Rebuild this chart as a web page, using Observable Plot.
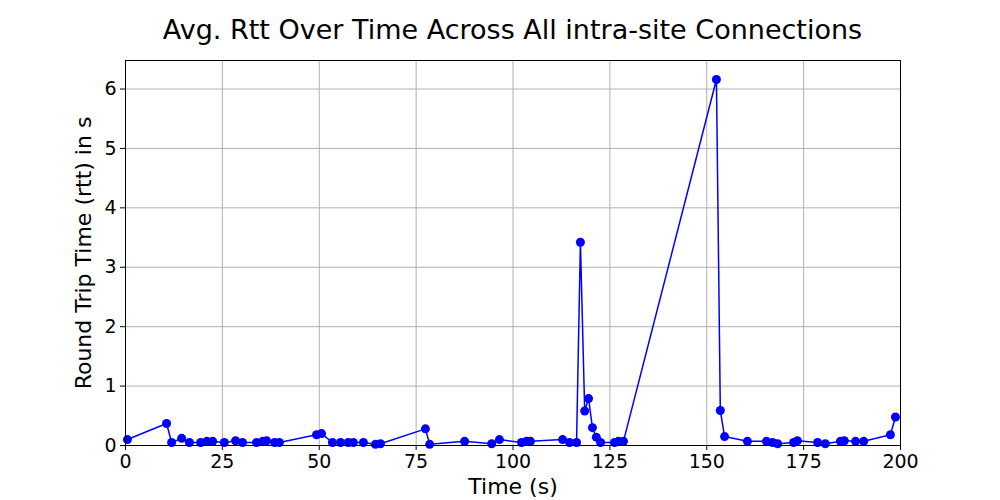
<!DOCTYPE html>
<html><head><meta charset="utf-8">
<script src="https://cdn.jsdelivr.net/npm/d3@7"></script>
<script src="https://cdn.jsdelivr.net/npm/@observablehq/plot@0.6"></script>
<style>
body{margin:0;background:#fff;font-family:"DejaVu Sans",sans-serif;}
#title{height:40px;width:1000px;text-align:center;font-size:27px;line-height:27px;padding-top:16px;box-sizing:border-box;padding-left:25px;}
</style></head><body>
<div id="title">Avg. Rtt Over Time Across All intra-site Connections</div>
<div id="chart"></div>
<script>
const times = [0.5,10.6,11.9,14.5,16.5,19.4,21,22.5,25.5,28.4,30.2,33.8,35.4,36.4,38.5,39.7,49.3,50.6,53.4,55.5,57.5,58.8,61.4,64.5,65.8,77.4,78.5,87.5,94.5,96.5,102.2,103.5,104.5,112.8,114.6,116.4,117.4,118.5,119.5,120.5,121.5,122.6,126.2,127.2,128.5,152.5,153.5,154.6,160.5,165.4,167,168.3,172.4,173.4,178.6,180.6,184.5,185.5,188.4,190.5,197.4,198.7];
const rtts = [0.10,0.37,0.05,0.12,0.05,0.05,0.07,0.07,0.05,0.08,0.05,0.05,0.07,0.08,0.05,0.05,0.18,0.20,0.05,0.05,0.05,0.05,0.05,0.02,0.03,0.28,0.02,0.07,0.03,0.10,0.05,0.07,0.07,0.10,0.05,0.05,3.42,0.58,0.79,0.30,0.14,0.05,0.05,0.07,0.07,6.16,0.59,0.15,0.07,0.07,0.05,0.03,0.05,0.08,0.05,0.03,0.07,0.08,0.07,0.07,0.18,0.48];
const xTicks = [0,25,50,75,100,125,150,175,200];
const yTicks = [0,1,2,3,4,5,6];
const data = times.map((t,i)=>({t, r: rtts[i]}));
const chart = Plot.plot({
  width:1000, height:460,
  marginLeft:125, marginRight:100, marginTop:20, marginBottom:55,
  style:{fontFamily:"DejaVu Sans", fontSize:"19px", color:"black", background:"white"},
  x:{domain:[0,200], label:null},
  y:{domain:[0,6.48], label:null},
  marks:[
    Plot.gridX(xTicks,{stroke:"#b0b0b0", strokeOpacity:1}),
    Plot.gridY(yTicks,{stroke:"#b0b0b0", strokeOpacity:1}),
    Plot.axisX(xTicks,{label:null, fontSize:19, tickSize:5, tickPadding:4, tickFormat:d3.format("d")}),
    Plot.axisY(yTicks,{label:null, fontSize:19, tickSize:5, tickPadding:4, tickFormat:d3.format("d")}),
    Plot.line(data,{x:"t", y:"r", stroke:"blue", strokeWidth:1.5}),
    Plot.dot(data,{x:"t", y:"r", fill:"blue", r:4.5}),
    Plot.frame({stroke:"black"}),
    Plot.text(["Time (s)"],{frameAnchor:"bottom", dy:48, fontSize:22, text:d=>d}),
    Plot.text(["Round Trip Time (rtt) in s"],{frameAnchor:"left", textAnchor:"middle", dx:-42, rotate:-90, fontSize:22, text:d=>d})
  ]
});
document.getElementById("chart").appendChild(chart);
</script></body></html>
